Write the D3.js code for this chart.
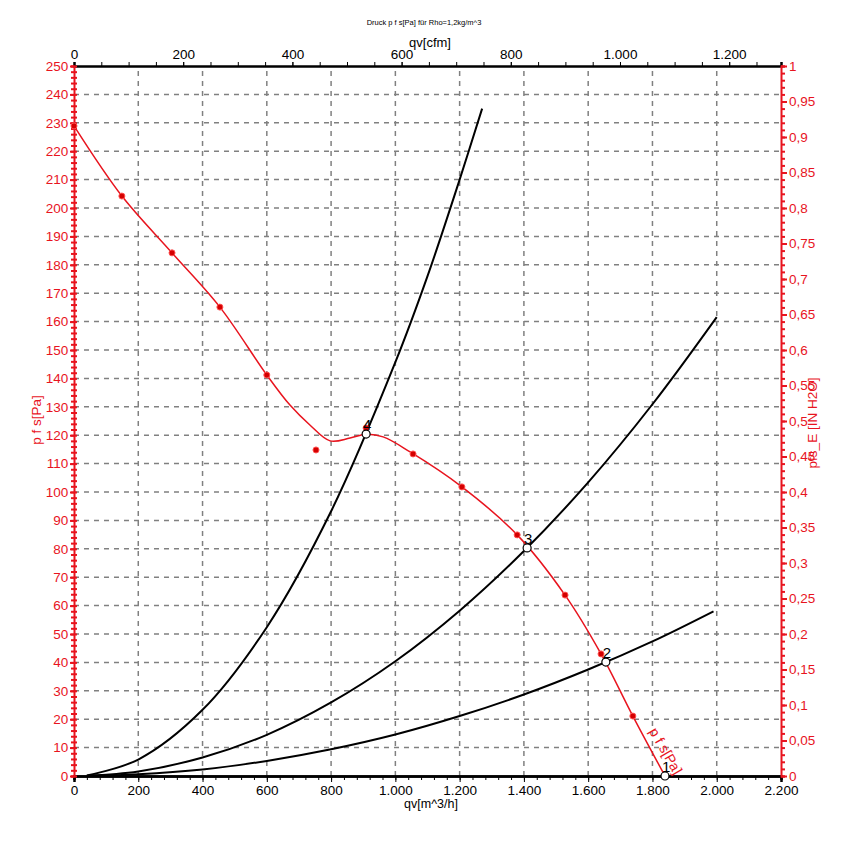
<!DOCTYPE html>
<html>
<head>
<meta charset="utf-8">
<script src="https://cdn.jsdelivr.net/npm/d3@7"></script>
<style>
  body { margin: 0; background: #fff; }
  text { font-family: Arial, "Liberation Sans", sans-serif; }
</style>
</head>
<body>
<div id="chart"></div>
<script>
// fan curve p_fs [Pa] over qv [m^3/h] (fitted line)
const fanQ = [0, 149, 305, 454, 600, 672, 734, 797, 859, 909, 962, 1046, 1207, 1379, 1528, 1640, 1739, 1839];
const fanP = [228.9, 204.2, 184.2, 165.1, 141.2, 130.6, 123.6, 118.0, 119.0, 120.3, 119.4, 114.1, 101.8, 84.9, 63.7, 43.0, 21.1, 0];

// measured points
const measQ = [0, 149, 305, 454, 600, 753, 909, 1055, 1207, 1379, 1528, 1640, 1739];
const measP = [228.9, 204.2, 184.2, 165.1, 141.2, 114.8, 122.5, 113.4, 101.8, 84.9, 63.7, 43.0, 21.1];

// system curves
const sysAQ = [40, 200, 400, 600, 800, 1000, 1100, 1200, 1270];
const sysAP = [0.2, 5.8, 23.3, 52.4, 93.2, 145.7, 176, 210, 235];
const sysBQ = [40, 200, 400, 600, 800, 1000, 1200, 1400, 1600, 1800, 2000];
const sysBP = [0.1, 1.6, 6.5, 14.5, 25.9, 40.4, 58.2, 79.2, 103.4, 130.9, 161.6];
const sysCQ = [40, 200, 400, 600, 800, 1000, 1200, 1400, 1600, 1800, 1990];
const sysCP = [0.0, 0.6, 2.3, 5.3, 9.4, 14.6, 21.1, 28.7, 37.5, 47.4, 58.0];

// operating points
const opLabels = ["1", "2", "3", "4"];
const opQ = [1839, 1655, 1410, 909];
const opP = [0, 40.1, 80.3, 120.4];

const qTicks = [0, 200, 400, 600, 800, 1000, 1200, 1400, 1600, 1800, 2000, 2200];
const cfmTicks = [0, 200, 400, 600, 800, 1000, 1200];
const paTicks = d3.range(0, 251, 10);
const inTicks = d3.range(0, 1.0001, 0.05);

const loc = d3.formatLocale({decimal: ",", thousands: ".", grouping: [3], currency: ["", ""]});
const fmtQ = loc.format(",");
const fmtIn = v => loc.format(",")(+v.toFixed(2));

const W = 853, H = 849;
const m = {left: 74, right: 72, top: 66, bottom: 73};
const red = "#e8141e";
const fs = 13.5;

const svg = d3.select("#chart").append("svg")
  .attr("width", W).attr("height", H)
  .style("background", "#fff");

const x = d3.scaleLinear().domain([0, 2200]).range([m.left, W - m.right]);
const xc = d3.scaleLinear().domain([0, 2200 / 1.699]).range([m.left, W - m.right]);
const y = d3.scaleLinear().domain([0, 250]).range([H - m.bottom, m.top]);
const yi = d3.scaleLinear().domain([0, 1]).range([H - m.bottom, m.top]);

// grid
const grid = svg.append("g").attr("stroke", "#808080").attr("stroke-width", 1.5)
  .attr("stroke-dasharray", "5,5");
grid.selectAll(".hg").data(paTicks.filter(d => d > 0 && d < 250)).enter().append("line")
  .attr("x1", x(0)).attr("x2", x(2200)).attr("y1", d => y(d)).attr("y2", d => y(d));
grid.selectAll(".vg").data(qTicks.filter(d => d > 0 && d < 2200)).enter().append("line")
  .attr("y1", y(0)).attr("y2", y(250)).attr("x1", d => x(d)).attr("x2", d => x(d));

// title
svg.append("text").attr("x", 424).attr("y", 25).attr("text-anchor", "middle")
  .attr("font-size", 7.5).text("Druck p f s[Pa] für Rho=1,2kg/m^3");

// bottom axis
svg.append("g").attr("transform", `translate(0,${y(0)})`)
  .call(d3.axisBottom(x).tickValues(d3.range(0, 2201, 40)).tickSize(4).tickFormat(""));
svg.append("g").attr("transform", `translate(0,${y(0)})`)
  .call(d3.axisBottom(x).tickValues(qTicks).tickSize(6).tickFormat(fmtQ))
  .call(g => g.selectAll("text").attr("font-size", fs).attr("fill", "#000").attr("y", 9));
svg.selectAll(".domain").attr("stroke-width", 2.5);

// top axis (cfm)
svg.append("g").attr("transform", `translate(0,${y(250)})`)
  .call(d3.axisTop(xc).tickValues(d3.range(0, 1295, 50)).tickSize(4).tickFormat(""))
  .call(g => g.select(".domain").attr("stroke-width", 2.5));
svg.append("g").attr("transform", `translate(0,${y(250)})`)
  .call(d3.axisTop(xc).tickValues(cfmTicks).tickSize(4).tickFormat(fmtQ))
  .call(g => g.select(".domain").remove())
  .call(g => g.selectAll("text").attr("font-size", fs).attr("fill", "#000").attr("y", -7).attr("dy", 0));

// left axis (Pa)
const leftAx = svg.append("g").attr("transform", `translate(${x(0)},0)`);
leftAx.call(d3.axisLeft(y).tickValues(d3.range(0, 251, 2)).tickSize(3).tickFormat(""));
leftAx.append("g").call(d3.axisRight(y).tickValues(d3.range(0, 251, 2)).tickSize(3).tickFormat(""))
  .call(g => g.select(".domain").remove());
leftAx.append("g").call(d3.axisLeft(y).tickValues(paTicks).tickSize(4))
  .call(g => g.select(".domain").remove())
  .call(g => g.selectAll("text").attr("font-size", fs).attr("dx", "0.1em"));
leftAx.selectAll("line, path").attr("stroke", red).attr("stroke-width", 2);
leftAx.selectAll("text").attr("fill", red);

// right axis (in H2O)
const rightAx = svg.append("g").attr("transform", `translate(${x(2200)},0)`);
rightAx.call(d3.axisRight(yi).tickValues(d3.range(0, 1.0001, 0.01)).tickSize(4).tickFormat(""));
rightAx.append("g").call(d3.axisRight(yi).tickValues(inTicks).tickSize(6).tickFormat(fmtIn))
  .call(g => g.select(".domain").remove())
  .call(g => g.selectAll("text").attr("font-size", fs).attr("x", 8));
rightAx.selectAll("line, path").attr("stroke", red).attr("stroke-width", 2);
rightAx.selectAll("text").attr("fill", red);

// axis titles
svg.append("text").attr("x", 430).attr("y", 47).attr("text-anchor", "middle")
  .attr("font-size", 13).text("qv[cfm]");
svg.append("text").attr("x", 431).attr("y", 808).attr("text-anchor", "middle")
  .attr("font-size", 12.5).text("qv[m^3/h]");
svg.append("text").attr("transform", "translate(41,420) rotate(-90)").attr("text-anchor", "middle")
  .attr("font-size", 13.5).attr("fill", red).text("p f s[Pa]");
svg.append("text").attr("transform", "translate(817,423) rotate(-90)").attr("text-anchor", "middle")
  .attr("font-size", 13.5).attr("fill", red).text("pfs_E [IN H2O]");

// system curves
const line = d3.line().x(d => x(d[0])).y(d => y(d[1])).curve(d3.curveCatmullRom);
[[sysAQ, sysAP], [sysBQ, sysBP], [sysCQ, sysCP]].forEach(([q, p]) => {
  svg.append("path").datum(q.map((v, i) => [v, p[i]]))
    .attr("d", line).attr("fill", "none").attr("stroke", "#000").attr("stroke-width", 2);
});

// fan curve
const fanLine = d3.line().x(d => x(d[0])).y(d => y(d[1])).curve(d3.curveCatmullRom.alpha(0.5));
svg.append("path").datum(fanQ.map((v, i) => [v, fanP[i]]))
  .attr("d", fanLine).attr("fill", "none").attr("stroke", red).attr("stroke-width", 1.5);

svg.selectAll(".meas").data(measQ.map((v, i) => [v, measP[i]])).enter().append("circle")
  .attr("cx", d => x(d[0])).attr("cy", d => y(d[1])).attr("r", 3)
  .attr("fill", "#d40000").attr("stroke", "#ff5050").attr("stroke-width", 1);

svg.append("text").attr("transform", `translate(${x(1745) + 14},${y(20) + 12}) rotate(60)`)
  .attr("font-size", 14).attr("fill", red).text("p f s[Pa]");

// operating points
const ops = opQ.map((v, i) => ({q: v, p: opP[i], label: opLabels[i]}));
svg.selectAll(".op").data(ops).enter().append("circle")
  .attr("cx", d => x(d.q)).attr("cy", d => y(d.p)).attr("r", 4)
  .attr("fill", "#fff").attr("stroke", "#000").attr("stroke-width", 1.2);
svg.selectAll(".opl").data(ops).enter().append("text")
  .attr("x", d => x(d.q) - 3).attr("y", d => y(d.p) - 4)
  .attr("font-size", 15).attr("fill", "#000").text(d => d.label);
</script>
</body>
</html>
